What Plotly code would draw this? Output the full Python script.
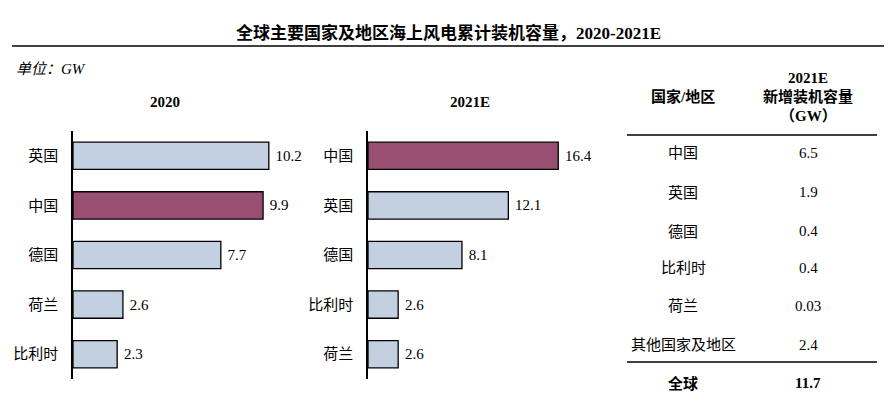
import plotly.graph_objects as go

# the page puts the figure 8px in from the top-left corner
OFF = 8
W, H = 896 - 2 * OFF, 412 - 2 * OFF

# data
cats_2020 = ["英国", "中国", "德国", "荷兰", "比利时"]
vals_2020 = [10.2, 9.9, 7.7, 2.6, 2.3]
cats_2021 = ["中国", "英国", "德国", "比利时", "荷兰"]
vals_2021 = [16.4, 12.1, 8.1, 2.6, 2.6]
table_names = ["中国", "英国", "德国", "比利时", "荷兰", "其他国家及地区"]
table_vals = ["6.5", "1.9", "0.4", "0.4", "0.03", "2.4"]
total_name, total_val = "全球", "11.7"

BLUE = "#C3D0E2"
PURPLE = "#984F72"
FONT = "Liberation Serif, Noto Sans CJK SC, serif"


def px(x):
    return (x - OFF) / W


def py(y):
    return 1 - (y - OFF) / H


def colors(cats):
    return [PURPLE if c == "中国" else BLUE for c in cats]


fig = go.Figure()
fig.add_trace(go.Bar(
    y=cats_2020, x=vals_2020, orientation="h", xaxis="x", yaxis="y",
    marker=dict(color=colors(cats_2020), line=dict(color="black", width=1.3)),
    width=0.55, text=[f" {v:.1f}" for v in vals_2020], textposition="outside",
    textfont=dict(size=15, color="black", family=FONT), cliponaxis=False,
))
fig.add_trace(go.Bar(
    y=cats_2021, x=vals_2021, orientation="h", xaxis="x2", yaxis="y2",
    marker=dict(color=colors(cats_2021), line=dict(color="black", width=1.3)),
    width=0.55, text=[f" {v:.1f}" for v in vals_2021], textposition="outside",
    textfont=dict(size=15, color="black", family=FONT), cliponaxis=False,
))

ydom = [py(379), py(131)]
yax = dict(domain=ydom, autorange="reversed", showline=True, linecolor="black",
           linewidth=1.5, ticks="", showgrid=False, zeroline=False,
           ticklabelstandoff=10, tickfont=dict(size=15, color="black", family=FONT))
xax = dict(showgrid=False, zeroline=False, showticklabels=False, showline=False)

fig.update_layout(
    width=W, height=H, margin=dict(l=0, r=0, t=0, b=0),
    paper_bgcolor="white", plot_bgcolor="white", showlegend=False,
    font=dict(family=FONT, color="black"),
    xaxis=dict(xax, domain=[px(73), px(300)], range=[0, 227 / 19.2]),
    yaxis=dict(yax, anchor="x"),
    xaxis2=dict(xax, domain=[px(368), px(600)], range=[0, 232 / 11.6]),
    yaxis2=dict(yax, anchor="x2"),
)

ann = []


def text(x, y, s, size=15, bold=False, italic=False, xanchor="center"):
    ann.append(dict(
        x=px(x), y=py(y), xref="paper", yref="paper", text=s, showarrow=False,
        xanchor=xanchor, yanchor="middle",
        font=dict(size=size, color="black", family=FONT,
                  weight="bold" if bold else "normal",
                  style="italic" if italic else "normal"),
    ))


text(448, 33, "全球主要国家及地区海上风电累计装机容量，2020-2021E", size=17, bold=True)
text(14, 69, "单位：GW", italic=True, xanchor="left")
text(165, 102, "2020", bold=True)
text(470, 102, "2021E", bold=True)

# table
text(683, 97, "国家/地区", bold=True)
text(808, 78, "2021E", bold=True)
text(808, 97, "新增装机容量", bold=True)
text(808, 116, "（GW）", bold=True)
row_y = [153, 192, 231, 268, 306, 345]
for yy, n, v in zip(row_y, table_names, table_vals):
    text(683, yy, n)
    text(808, yy, v)
text(683, 383, total_name, bold=True)
text(808, 383, total_val, bold=True)

fig.update_layout(annotations=ann)

shapes = [
    dict(x0=12, x1=884, y0=46, y1=46),
    dict(x0=627, x1=877, y0=135, y1=135),
    dict(x0=627, x1=877, y0=362, y1=362),
]
fig.update_layout(shapes=[
    dict(type="line", xref="paper", yref="paper",
         x0=px(s["x0"]), x1=px(s["x1"]), y0=py(s["y0"]), y1=py(s["y1"]),
         line=dict(color="black", width=1.5))
    for s in shapes
])

fig.write_html("out.html")
